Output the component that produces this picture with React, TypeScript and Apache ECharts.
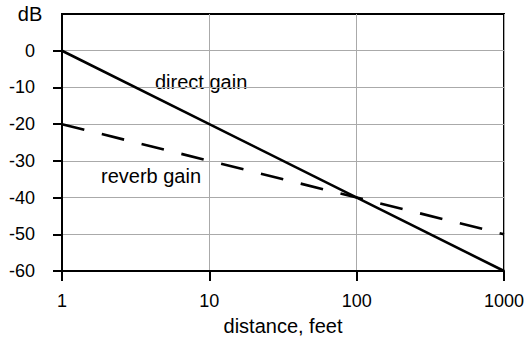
import React, { useEffect, useRef } from "react";
import * as echarts from "echarts";

const distances = [1, 1000];
const directGain = [0, -60];
const reverbGain = [-20, -50];
const yTicks = [-60, -50, -40, -30, -20, -10, 0];

const FONT = "'Liberation Sans', Arial, sans-serif";

export default function App() {
  const ref = useRef<HTMLDivElement>(null);
  useEffect(() => {
    if (!ref.current) return;
    const chart = echarts.init(ref.current, null, { renderer: "svg" });
    chart.setOption({
      animation: false,
      backgroundColor: "#fff",
      grid: {
        left: 62,
        right: 25,
        top: 14,
        bottom: 71,
        show: true,
        borderColor: "#000",
        borderWidth: 2,
      },
      xAxis: {
        type: "log",
        logBase: 10,
        min: 1,
        max: 1000,
        name: "distance, feet",
        nameLocation: "middle",
        nameGap: 45,
        nameTextStyle: { fontSize: 20, fontFamily: FONT, color: "#000" },
        axisLine: { onZero: false, lineStyle: { color: "#000", width: 2 } },
        axisTick: { show: true, length: 10, lineStyle: { color: "#000", width: 2 } },
        axisLabel: {
          fontSize: 18,
          fontFamily: FONT,
          color: "#000",
          margin: 21,
          formatter: (v: number) => String(Math.round(v)),
        },
        splitLine: { show: true, lineStyle: { color: "#aaa", width: 1 } },
        minorTick: { show: false },
      },
      yAxis: {
        type: "value",
        min: -60,
        max: 10,
        interval: 10,
        axisLine: { show: true, lineStyle: { color: "#000", width: 2 } },
        axisTick: {
          show: true,
          length: 9,
          lineStyle: { color: "#000", width: 2 },
          customValues: yTicks,
        },
        axisLabel: {
          fontSize: 18,
          fontFamily: FONT,
          color: "#000",
          margin: 27,
          customValues: yTicks,
        },
        splitLine: { show: true, lineStyle: { color: "#aaa", width: 1 } },
      },
      graphic: [
        {
          type: "text",
          x: 30,
          y: 14,
          style: {
            text: "dB",
            fontSize: 20,
            fontFamily: FONT,
            fill: "#000",
            align: "center",
            verticalAlign: "middle",
          },
        },
        {
          type: "text",
          x: 155,
          y: 82,
          style: {
            text: "direct gain",
            fontSize: 20,
            fontFamily: FONT,
            fill: "#000",
            verticalAlign: "middle",
          },
        },
        {
          type: "text",
          x: 101,
          y: 176,
          style: {
            text: "reverb gain",
            fontSize: 20,
            fontFamily: FONT,
            fill: "#000",
            verticalAlign: "middle",
          },
        },
      ],
      series: [
        {
          name: "direct gain",
          type: "line",
          data: distances.map((d, i) => [d, directGain[i]]),
          symbol: "none",
          lineStyle: { color: "#000", width: 2.6, type: "solid" },
          z: 5,
        },
        {
          name: "reverb gain",
          type: "line",
          data: distances.map((d, i) => [d, reverbGain[i]]),
          symbol: "none",
          lineStyle: { color: "#000", width: 2.6, type: [23, 18] },
          z: 5,
        },
      ],
    });
    return () => chart.dispose();
  }, []);
  return <div ref={ref} style={{ width: 529, height: 342, position: "absolute", left: 0, top: 0 }} />;
}
